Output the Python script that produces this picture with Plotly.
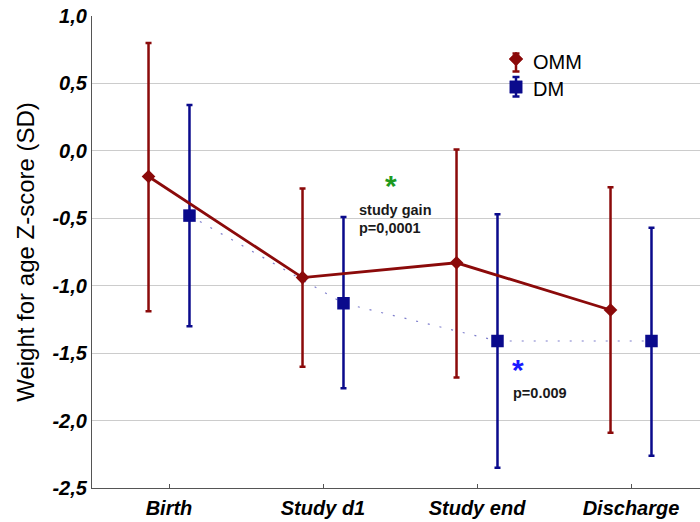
import plotly.graph_objects as go

categories = ["Birth", "Study d1", "Study end", "Discharge"]
cat_pos = [0, 1, 2, 3]
offset = 0.133

omm_mean = [-0.19, -0.94, -0.83, -1.18]
omm_upper = [0.80, -0.28, 0.01, -0.27]
omm_lower = [-1.19, -1.60, -1.68, -2.09]

dm_mean = [-0.48, -1.13, -1.41, -1.41]
dm_upper = [0.34, -0.49, -0.47, -0.57]
dm_lower = [-1.30, -1.76, -2.35, -2.26]

y_tickvals = [1.0, 0.5, 0.0, -0.5, -1.0, -1.5, -2.0, -2.5]
y_ticktext = ["1,0", "0,5", "0,0", "-0,5", "-1,0", "-1,5", "-2,0", "-2,5"]

series_names = ["OMM", "DM"]

OMM_COL = "#8b0a0a"
DM_COL = "#0a0a8c"
FONT = "Liberation Sans, Arial, sans-serif"

omm_x = [p - offset for p in cat_pos]
dm_x = [p + offset for p in cat_pos]

fig = go.Figure()

# DM
fig.add_trace(go.Scatter(
    x=dm_x, y=dm_mean, mode="lines+markers", name=series_names[1], showlegend=False,
    line=dict(color="rgba(40,40,170,0.6)", width=1.2, dash="2px,10px"),
    marker=dict(symbol="square", size=12.5, color=DM_COL),
    error_y=dict(type="data", symmetric=False,
                 array=[u - m for u, m in zip(dm_upper, dm_mean)],
                 arrayminus=[m - l for m, l in zip(dm_mean, dm_lower)],
                 color=DM_COL, thickness=2.5, width=3),
))
# OMM
fig.add_trace(go.Scatter(
    x=omm_x, y=omm_mean, mode="lines+markers", name=series_names[0], showlegend=False,
    line=dict(color=OMM_COL, width=2.8),
    marker=dict(symbol="diamond", size=10.5, color=OMM_COL),
    error_y=dict(type="data", symmetric=False,
                 array=[u - m for u, m in zip(omm_upper, omm_mean)],
                 arrayminus=[m - l for m, l in zip(omm_mean, omm_lower)],
                 color=OMM_COL, thickness=2.5, width=3),
))

W, H = 700, 522
ml, mr, mt, mb = 92, 0, 16, 34
pw, ph = W - ml - mr, H - mt - mb

def px_to_paper(px, py):
    return (px - ml) / pw, 1 - (py - mt) / ph

shapes = []
annotations = []

def add_text(px, py, text, size, color, bold=True, xanchor="left"):
    ax, ay = px_to_paper(px, py)
    annotations.append(dict(x=ax, y=ay, xref="paper", yref="paper", text=text, showarrow=False,
                            xanchor=xanchor, yanchor="middle",
                            font=dict(family=FONT, size=size, color=color,
                                      weight="bold" if bold else "normal")))

def vline(cx, y0p, y1p, col, w=2.5):
    xa, ya = px_to_paper(cx, y0p)
    _, yb = px_to_paper(cx, y1p)
    shapes.append(dict(type="line", xref="paper", yref="paper", x0=xa, x1=xa, y0=ya, y1=yb,
                       line=dict(color=col, width=w)))

def hline(x0p, x1p, cy, col, w=2.5):
    xa, ya = px_to_paper(x0p, cy)
    xb, _ = px_to_paper(x1p, cy)
    shapes.append(dict(type="line", xref="paper", yref="paper", x0=xa, x1=xb, y0=ya, y1=ya,
                       line=dict(color=col, width=w)))

# manual legend (error-bar glyph + marker + label)
lx = 516
# OMM
vline(lx, 53.5, 71.5, OMM_COL)
hline(lx - 3.5, lx + 3.5, 53.5, OMM_COL)
hline(lx - 3.5, lx + 3.5, 71.5, OMM_COL)
pts = [px_to_paper(lx, 59 - 7), px_to_paper(lx + 7, 59), px_to_paper(lx, 59 + 7), px_to_paper(lx - 7, 59)]
shapes.append(dict(type="path", xref="paper", yref="paper",
                   path="M " + " L ".join(f"{a},{b}" for a, b in pts) + " Z",
                   fillcolor=OMM_COL, line=dict(color=OMM_COL, width=0.5)))
add_text(531, 62, series_names[0], 20, "black", bold=False)
# DM
vline(lx, 77, 96.5, DM_COL)
hline(lx - 3.5, lx + 3.5, 77, DM_COL)
hline(lx - 3.5, lx + 3.5, 96.5, DM_COL)
a0, b0 = px_to_paper(lx - 6.2, 87 - 6.2)
a1, b1 = px_to_paper(lx + 6.2, 87 + 6.2)
shapes.append(dict(type="rect", xref="paper", yref="paper", x0=a0, x1=a1, y0=b0, y1=b1,
                   fillcolor=DM_COL, line=dict(color=DM_COL, width=0.5)))
add_text(531, 89, series_names[1], 20, "black", bold=False)

# significance annotations
add_text(391, 186, "*", 30, "#1e9a1e", xanchor="center")
add_text(357, 210, "study gain", 14.5, "#1a1a1a")
add_text(357, 228, "p=0,0001", 14.5, "#1a1a1a")
add_text(518, 369, "*", 30, "#1a1aff", xanchor="center")
add_text(511, 393, "p=0.009", 14.5, "#1a1a1a")

fig.update_layout(
    width=W, height=H,
    margin=dict(l=ml, r=mr, t=mt, b=mb, pad=0),
    paper_bgcolor="white", plot_bgcolor="white",
    font=dict(family=FONT, color="black"),
    shapes=shapes, annotations=annotations,
    showlegend=False,
    xaxis=dict(range=[-0.5, 3.448], tickvals=cat_pos, ticktext=categories,
               showgrid=False, zeroline=False, showline=True, linecolor="#555555", linewidth=1.3,
               ticks="inside", ticklen=4, tickcolor="#555555", ticklabelstandoff=2,
               tickfont=dict(family=FONT, size=20, color="black", weight="bold", style="italic")),
    yaxis=dict(range=[-2.5, 1.0], tickvals=y_tickvals, ticktext=y_ticktext,
               showgrid=True, gridcolor="#cccccc", gridwidth=1, zeroline=False,
               showline=True, linecolor="#555555", linewidth=1.3, ticks="",
               tickfont=dict(family=FONT, size=20, color="black", weight="bold", style="italic"),
               title=dict(text="Weight for age Z-score (SD)", standoff=10,
                          font=dict(family=FONT, size=24, color="black"))),
)

fig.write_html("out.html")
